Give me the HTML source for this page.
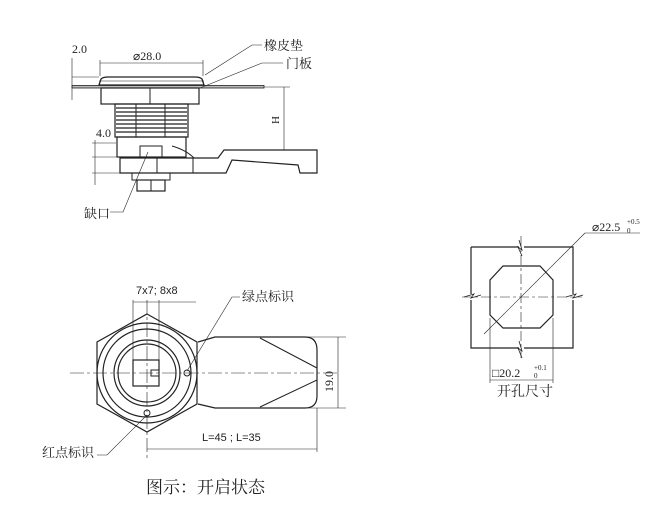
<!DOCTYPE html>
<html><head><meta charset="utf-8"><style>
html,body{margin:0;padding:0;background:#fff;}
svg{display:block;font-family:"Liberation Serif","Noto Serif CJK SC",serif;}
.a{font-family:"Liberation Sans","Noto Sans CJK SC",sans-serif;}
</style></head><body>
<svg width="664" height="524" viewBox="0 0 664 524" xmlns="http://www.w3.org/2000/svg" fill="none" stroke="#222" stroke-width="1">
<g>
<path d="M99,85 L101,79 Q103,77 108,77 L195,77 Q200,77 202,79 L204,85 Z" stroke-width="1.3"/>
<line x1="99" y1="81" x2="204" y2="81" stroke-width="0.6"/>
<rect x="72" y="85.5" width="192" height="2.5" fill="#bbb" stroke-width="0.8"/>
<rect x="101" y="88" width="98" height="16" stroke-width="1.2"/>
<line x1="150" y1="88" x2="150" y2="104"/>
<rect x="115" y="104" width="73" height="33" stroke-width="1.2"/>
<g stroke-width="1.2">
<line x1="116" y1="108" x2="187" y2="108"/><line x1="116" y1="112" x2="187" y2="112"/>
<line x1="116" y1="116" x2="187" y2="116"/><line x1="116" y1="120" x2="187" y2="120"/>
<line x1="116" y1="124" x2="187" y2="124"/><line x1="116" y1="128" x2="187" y2="128"/>
<line x1="116" y1="132" x2="187" y2="132"/>
</g>
<path d="M136,104 L136,137 M165,104 L165,137" stroke-width="1"/>
<rect x="117" y="137" width="69" height="20" stroke-width="1.2"/>
<rect x="140" y="146" width="22" height="11"/>
<path d="M172,146 Q186,150 194,158"/>
<path d="M120,158 L218,158 L224,150 L317,150 L317,173 L300,173 L298,165 L232,160 L226,173 L120,173 Z" stroke-width="1.2"/>
<line x1="157" y1="158" x2="157" y2="173"/><line x1="193" y1="158" x2="193" y2="173"/>
<rect x="132" y="173" width="38" height="7"/>
<rect x="137" y="180" width="28" height="11" stroke-width="1.2"/>
<line x1="151" y1="180" x2="151" y2="191"/>
<g stroke-width="0.6">
<line x1="100" y1="60" x2="100" y2="76"/><line x1="203" y1="60" x2="203" y2="76"/>
<line x1="100" y1="63" x2="203" y2="63"/>
<line x1="72" y1="77" x2="99" y2="77"/><line x1="72" y1="58" x2="72" y2="100"/>
<line x1="284" y1="87" x2="284" y2="150"/><line x1="264" y1="87" x2="290" y2="87"/><line x1="226" y1="150" x2="290" y2="150"/>
<line x1="92" y1="143" x2="116" y2="143"/><line x1="92" y1="157" x2="120" y2="157"/><line x1="92" y1="173" x2="120" y2="173"/>
<line x1="95" y1="140" x2="95" y2="185"/>
<path d="M205,75 L252,45 L262,45"/>
<path d="M200,88 L262,63 L283,63"/>
<path d="M148,152 L123,212 L110,212"/>
</g>
<text x="72" y="53" font-size="12" fill="#222" stroke="none">2.0</text>
<text x="133" y="60" font-size="12" fill="#222" stroke="none">⌀28.0</text>
<text x="96" y="137" font-size="12" fill="#222" stroke="none">4.0</text>
<text x="0" y="0" font-size="11" fill="#222" stroke="none" transform="translate(279,124) rotate(-90)">H</text>
<text x="264" y="50" font-size="13" fill="#222" stroke="none">橡皮垫</text>
<text x="286" y="68" font-size="13" fill="#222" stroke="none">门板</text>
<text x="84" y="218" font-size="13" fill="#222" stroke="none">缺口</text>
</g>
<g>
<path d="M147,314 L197,342 L197,404 L147,432 L97,404 L97,342 Z" stroke-width="1.2"/>
<circle cx="147" cy="373" r="50" stroke-width="1.2"/>
<circle cx="147" cy="373" r="44" stroke-width="1.2"/>
<circle cx="147" cy="373" r="33" stroke-width="1.2"/>
<circle cx="147" cy="373" r="29" stroke-width="1.2"/>
<rect x="133" y="360" width="26" height="26" stroke-width="1.2"/>
<path d="M159,370 L151,370 L151,376 L159,376"/>
<circle cx="187" cy="373" r="3"/>
<circle cx="147" cy="413" r="3"/>
<path d="M198,342 L215,337 L305,337 Q317,337 317,350 L317,396 Q317,408 305,408 L215,408 L198,404" stroke-width="1.2"/>
<path d="M260,338 L317,368 M260,407 L317,380" stroke-width="1"/>
<g stroke-width="0.6">
<line x1="70" y1="373" x2="340" y2="373" stroke-dasharray="14,3,3,3"/>
<line x1="147" y1="300" x2="147" y2="460" stroke-dasharray="14,3,3,3"/>
<line x1="133" y1="300" x2="133" y2="360"/><line x1="159" y1="300" x2="159" y2="360"/>
<line x1="133" y1="302" x2="196" y2="302"/>
<line x1="317" y1="408" x2="317" y2="452"/><line x1="147" y1="449" x2="317" y2="449"/>
<line x1="305" y1="337" x2="346" y2="337"/><line x1="305" y1="408" x2="346" y2="408"/>
<line x1="338" y1="337" x2="338" y2="408"/>
<path d="M187,371 L232,297 L240,297"/>
<path d="M147,415 L107,455 L97,455"/>
</g>
<text x="136" y="294" class="a" font-size="11" fill="#222" stroke="none">7x7; 8x8</text>
<text x="242" y="301" font-size="13" fill="#222" stroke="none">绿点标识</text>
<text x="42" y="457" font-size="13" fill="#222" stroke="none">红点标识</text>
<text x="202" y="441" class="a" font-size="11" fill="#222" stroke="none">L=45 ; L=35</text>
<text x="0" y="0" font-size="12" fill="#222" stroke="none" transform="translate(333,392) rotate(-90)">19.0</text>
<text x="146" y="493" font-size="17" fill="#222" stroke="none">图示：开启状态</text>
</g>
<g>
<path d="M471,247 L519,247 M524,247 L573,247 L573,294 M573,300 L573,348 L524,348 M519,348 L471,348 L471,300 M471,294 L471,247" stroke-width="1.2"/>
<path d="M519,240 L522,250 L518,247 L522,256 M519,341 L522,351 L518,348 L522,358 M464,297 L474,294 L471,298 L481,295 M566,297 L576,294 L573,298 L583,295" stroke-width="0.8"/>
<path d="M503,266 L540,266 L553,280 L553,315 L540,328 L503,328 L490,315 L490,280 Z" stroke-width="1.2"/>
<g stroke-width="0.6">
<line x1="521" y1="236" x2="521" y2="358" stroke-dasharray="10,3,3,3"/>
<line x1="462" y1="297" x2="582" y2="297" stroke-dasharray="10,3,3,3"/>
<line x1="484" y1="334" x2="585" y2="233"/><line x1="585" y1="233" x2="640" y2="233"/>
<line x1="490" y1="318" x2="490" y2="383"/><line x1="553" y1="318" x2="553" y2="383"/>
<line x1="490" y1="380" x2="553" y2="380"/>
</g>
<text x="592" y="231" font-size="12" fill="#222" stroke="none">⌀22.5</text>
<text x="627" y="224" font-size="7" fill="#222" stroke="none">+0.5</text>
<text x="627" y="233" font-size="7" fill="#222" stroke="none">0</text>
<text x="492" y="377" font-size="12" fill="#222" stroke="none">□20.2</text>
<text x="534" y="370" font-size="7" fill="#222" stroke="none">+0.1</text>
<text x="534" y="378" font-size="7" fill="#222" stroke="none">0</text>
<text x="497" y="396" font-size="14" fill="#222" stroke="none">开孔尺寸</text>
</g>
</svg>
</body></html>
